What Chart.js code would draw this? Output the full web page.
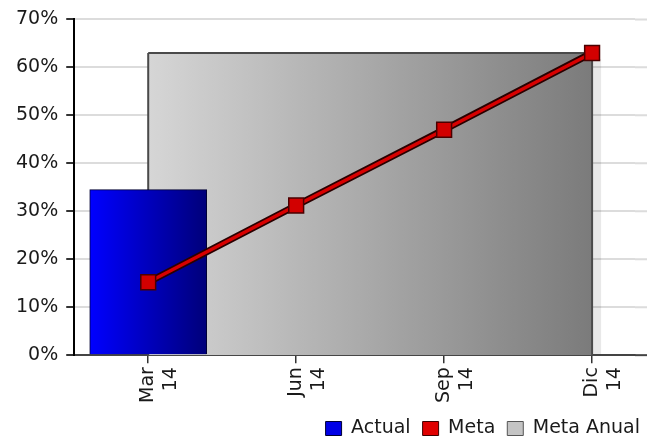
<!DOCTYPE html>
<html>
<head>
<meta charset="utf-8">
<script src="https://cdn.jsdelivr.net/npm/chart.js@4/dist/chart.umd.min.js"></script>
<style>
  html, body { margin: 0; padding: 0; background: #fff; }
  #wrap { width: 647px; height: 439px; }
</style>
</head>
<body>
<div id="wrap"><canvas id="myChart"></canvas></div>
<script>
const months = [["Mar", "14"], ["Jun", "14"], ["Sep", "14"], ["Dic", "14"]];
const actual = [34.5];
const meta = [15.2, 31.2, 47, 63];
const metaAnual = [63, 63, 63, 63];
const yTicks = [0, 10, 20, 30, 40, 50, 60, 70];

const font = { family: "DejaVu Sans", size: 19 };
const textColor = "#1a1a1a";

const toXY = (arr) => arr.map((v, i) => ({ x: i, y: v }));

// gray shadow + dark side edges for the "Meta Anual" area,
// and gridlines carried on to the right edge of the canvas
const areaPlugin = {
  id: "areaExtras",
  beforeDatasetsDraw(chart) {
    const c = chart.ctx;
    const ys = chart.scales.y;
    const right = chart.chartArea.right;
    c.save();
    c.strokeStyle = "#dcdcdc";
    c.lineWidth = 2;
    c.beginPath();
    ys.ticks.forEach((t) => {
      if (t.value === 0) return;
      const y = ys.getPixelForValue(t.value);
      c.moveTo(right, y);
      c.lineTo(chart.width, y);
    });
    c.stroke();
    c.strokeStyle = "#444";
    c.beginPath();
    c.moveTo(right, ys.getPixelForValue(0));
    c.lineTo(chart.width, ys.getPixelForValue(0));
    c.stroke();

    const pts = chart.getDatasetMeta(0).data;
    if (pts.length) {
      const bottom = ys.getPixelForValue(0);
      const first = pts[0], last = pts[pts.length - 1];
      c.fillStyle = "rgba(0,0,0,0.09)";
      c.fillRect(first.x + 9, first.y + 6, last.x - first.x, bottom - first.y - 7);
    }
    c.restore();
  },
  afterDatasetDraw(chart, args) {
    if (args.index !== 0) return;
    const pts = args.meta.data;
    const c = chart.ctx;
    const bottom = chart.scales.y.getPixelForValue(0);
    c.save();
    c.strokeStyle = "#4a4a4a";
    c.lineWidth = 2;
    c.beginPath();
    c.moveTo(pts[0].x, bottom);
    c.lineTo(pts[0].x, pts[0].y);
    c.moveTo(pts[pts.length - 1].x, pts[pts.length - 1].y);
    c.lineTo(pts[pts.length - 1].x, bottom);
    c.stroke();
    c.restore();
  },
};

const ctx = document.getElementById("myChart");

new Chart(ctx, {
  type: "bar",
  data: {
    datasets: [
      {
        type: "line",
        label: "Meta Anual",
        data: toXY(metaAnual),
        order: 3,
        fill: "origin",
        borderColor: "#4a4a4a",
        borderWidth: 2,
        pointRadius: 0,
        backgroundColor: (c) => {
          const chart = c.chart;
          if (!chart.chartArea) return "#bbb";
          const xs = chart.scales.x;
          const g = chart.ctx.createLinearGradient(xs.getPixelForValue(0), 0, xs.getPixelForValue(metaAnual.length - 1), 0);
          g.addColorStop(0, "#d6d6d6");
          g.addColorStop(1, "#7b7b7b");
          return g;
        },
      },
      {
        type: "bar",
        label: "Actual",
        data: toXY(actual),
        order: 2,
        barThickness: 117,
        borderColor: "#000033",
        borderWidth: 1,
        borderSkipped: "bottom",
        backgroundColor: (c) => {
          const chart = c.chart;
          if (!chart.chartArea) return "#00f";
          const cx = chart.scales.x.getPixelForValue(0);
          const g = chart.ctx.createLinearGradient(cx - 58, 0, cx + 58, 0);
          g.addColorStop(0, "#0000ff");
          g.addColorStop(1, "#00007a");
          return g;
        },
      },
      {
        type: "line",
        label: "outline",
        data: toXY(meta),
        order: 1,
        borderColor: "#2a0000",
        borderWidth: 7,
        pointRadius: 0,
        fill: false,
      },
      {
        type: "line",
        label: "Meta",
        data: toXY(meta),
        order: 0,
        borderColor: "#d80000",
        borderWidth: 3.5,
        fill: false,
        pointStyle: "rect",
        pointRadius: 10.5,
        pointBackgroundColor: "#d20000",
        pointBorderColor: "#4a0000",
        pointBorderWidth: 1.5,
      },
    ],
  },
  options: {
    responsive: true,
    maintainAspectRatio: false,
    animation: false,
    layout: { padding: { left: 8, top: 14, right: -5, bottom: -9 } },
    plugins: {
      tooltip: { enabled: false },
      title: { display: false },
      legend: {
        position: "bottom",
        align: "end",
        labels: {
          font: font,
          color: textColor,
          boxWidth: 16,
          boxHeight: 14,
          padding: 12,
          generateLabels: () => [
            { text: "Actual", fillStyle: "#0000e6", strokeStyle: "#000033", lineWidth: 1, hidden: false, fontColor: textColor },
            { text: "Meta", fillStyle: "#e00000", strokeStyle: "#400000", lineWidth: 1, hidden: false, fontColor: textColor },
            { text: "Meta Anual", fillStyle: "#c4c4c4", strokeStyle: "#555", lineWidth: 1, hidden: false, fontColor: textColor },
          ],
        },
        onClick: () => {},
      },
    },
    scales: {
      x: {
        type: "linear",
        offset: false,
        min: -0.5,
        max: 3.29,
        afterBuildTicks: (s) => {
          s.ticks = months.map((m, i) => ({ value: i }));
        },
        ticks: {
          callback: (v) => months[v],
          minRotation: 90,
          maxRotation: 90,
          autoSkip: false,
          font: font,
          color: textColor,
          padding: 4,
        },
        grid: { offset: false, drawOnChartArea: false, tickLength: 8, color: "#333", lineWidth: 1.5 },
        border: { color: "#444", width: 2 },
      },
      y: {
        min: 0,
        max: 70,
        afterBuildTicks: (s) => {
          s.ticks = yTicks.map((v) => ({ value: v }));
        },
        ticks: {
          callback: (v) => v + "%",
          font: font,
          color: textColor,
          padding: 8,
        },
        grid: { color: "#dcdcdc", lineWidth: 2, tickColor: "#333", tickLength: 8 },
        border: { color: "#000", width: 2 },
      },
    },
  },
  plugins: [areaPlugin],
});
</script>
</body>
</html>
